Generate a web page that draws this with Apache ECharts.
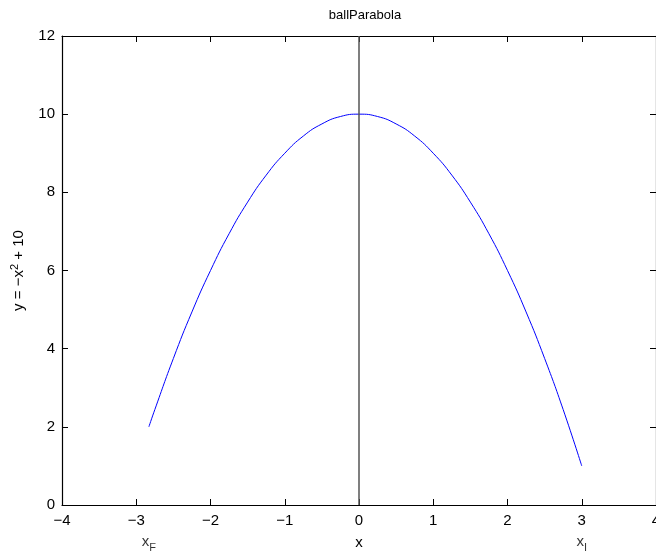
<!DOCTYPE html>
<html><head><meta charset="utf-8">
<script src="https://cdn.jsdelivr.net/npm/echarts@6/dist/echarts.min.js"></script>
<style>html,body{margin:0;padding:0;background:#fff}#c{width:656px;height:555px}</style>
</head><body><div id="c"></div>
<script>
const xVals = [-2.83,-2.75,-2.5,-2.25,-2,-1.75,-1.5,-1.25,-1,-0.75,-0.5,-0.25,0,0.25,0.5,0.75,1,1.25,1.5,1.75,2,2.25,2.5,2.75,3];
const yVals = [2.0,2.44,3.75,4.94,6.0,6.94,7.75,8.44,9.0,9.44,9.75,9.94,10,9.94,9.75,9.44,9.0,8.44,7.75,6.94,6.0,4.94,3.75,2.44,1.0];
const xTicks = [-4,-3,-2,-1,0,1,2,3,4];
const yTicks = [0,2,4,6,8,10,12];
const markerX = [0];
const endLabels = [{x:-2.83, name:'F'},{x:3, name:'I'}];

const font = 'Liberation Sans, Arial, Helvetica, sans-serif';
const fs = 15;
const chart = echarts.init(document.getElementById('c'));
const axisLine = {show:true, onZero:false, lineStyle:{color:'#000', width:1.2}};
const tick = {show:true, inside:true, length:6, lineStyle:{color:'#000'}};
chart.setOption({
  animation:false,
  title:{text:'ballParabola', left:360, top:4, textAlign:'center',
    textStyle:{fontFamily:font, fontSize:13, fontWeight:'normal', color:'#000'}},
  grid:{left:62, top:36, width:594, height:469, outerBoundsMode:'none', containLabel:false},
  xAxis:[
    {type:'value', min:-4, max:4, interval:1, position:'bottom',
     axisLine:axisLine, axisTick:tick, splitLine:{show:false},
     axisLabel:{fontFamily:font, fontSize:fs, color:'#000', margin:8, showMaxLabel:true, showMinLabel:true,
       hideOverlap:false, formatter:v=>String(v).replace('-','\u2212')},
     name:'x', nameLocation:'middle', nameGap:30,
     nameTextStyle:{fontFamily:font, fontSize:fs, color:'#000'}},
    {type:'value', min:-4, max:4, interval:1, position:'top',
     axisLine:axisLine, axisTick:tick, axisLabel:{show:false}, splitLine:{show:false}}
  ],
  yAxis:[
    {type:'value', min:0, max:12, interval:2, position:'left',
     axisLine:axisLine, axisTick:tick, splitLine:{show:false},
     axisLabel:{fontFamily:font, fontSize:fs, color:'#000', margin:7, showMinLabel:true, showMaxLabel:true},
     name:'{a|y = \u2212x}{s|2}{a| + 10}', nameLocation:'middle', nameGap:33, nameRotate:90,
     nameTextStyle:{fontFamily:font, fontSize:fs, color:'#000',
       rich:{a:{fontFamily:font, fontSize:fs, color:'#000'},
             s:{fontFamily:font, fontSize:11, color:'#000', verticalAlign:'top', padding:[0,0,9,0]}}}},
    {type:'value', min:0, max:12, interval:2, position:'right',
     axisLine:axisLine, axisTick:tick, axisLabel:{show:false}, splitLine:{show:false}}
  ],
  series:[
    {type:'line', data:xVals.map((x,i)=>[x,yVals[i]]), showSymbol:false, smooth:true,
     lineStyle:{color:'#0000ff', width:1}},
    {type:'line', data:[[markerX[0],0],[markerX[0],12]], showSymbol:false,
     lineStyle:{color:'#555555', width:1.5}},
    {type:'scatter', symbolSize:0, clip:false,
     data:endLabels.map(d=>({value:[d.x,0], name:d.name})),
     label:{show:true, position:'bottom', distance:25,
       formatter:p=>'{a|x}{s|'+p.name+'}',
       rich:{a:{fontFamily:font, fontSize:fs, color:'#000'},
             s:{fontFamily:font, fontSize:11, color:'#000', verticalAlign:'bottom', padding:[12,0,0,0]}}}}
  ]
});
</script></body></html>
